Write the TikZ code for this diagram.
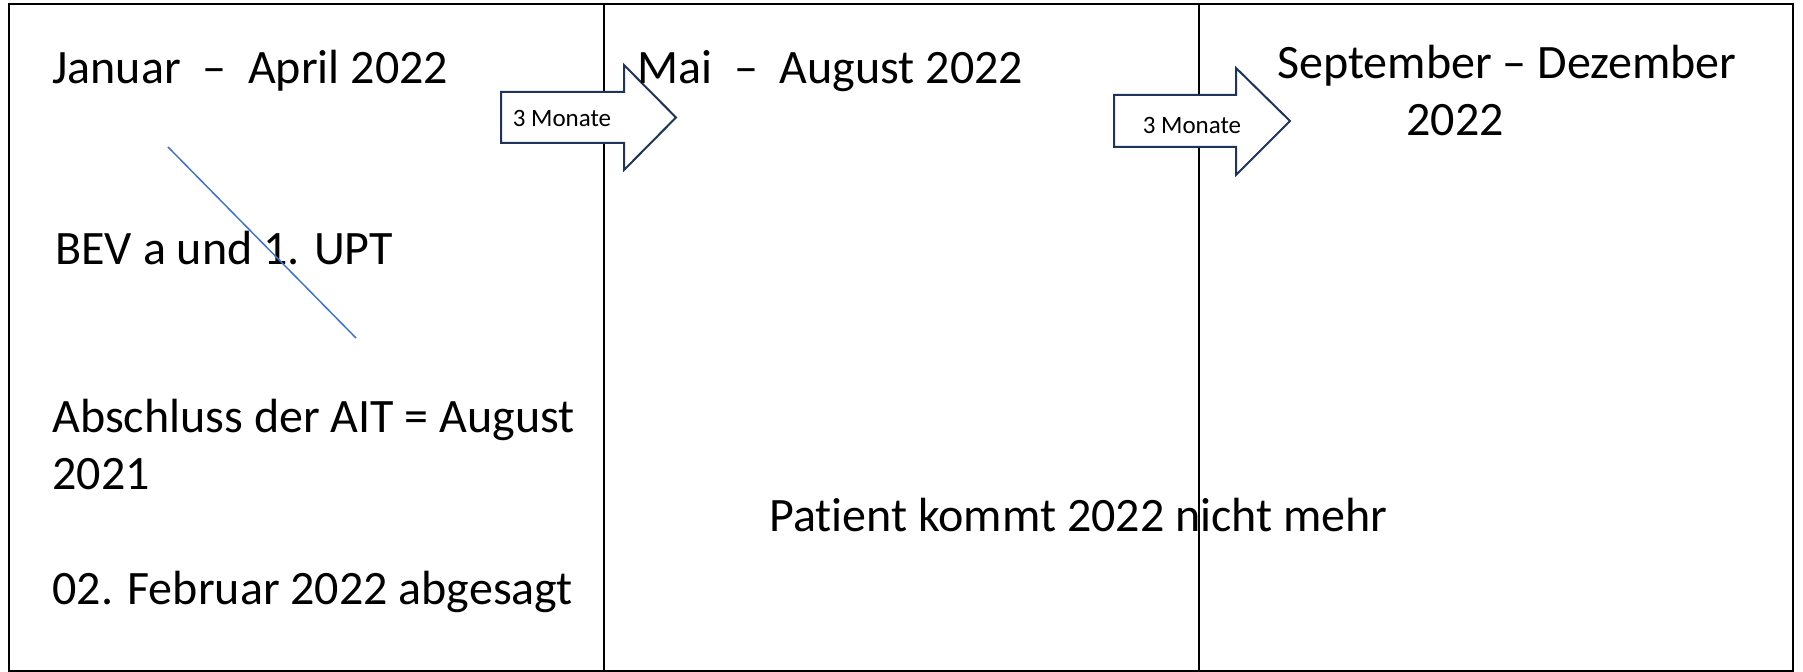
\documentclass[tikz,border=0pt]{standalone}
\usepackage{fontspec}
\setmainfont{Carlito}[RawFeature={-liga}]
\definecolor{arrowline}{RGB}{32,52,90}
\definecolor{strike}{RGB}{68,114,196}
\begin{document}
\begin{tikzpicture}[x=0.5pt,y=-0.5pt,
  txt/.style={anchor=base west,inner sep=0pt,font=\fontsize{24pt}{29pt}\selectfont},
  lbl/.style={inner sep=0pt,font=\fontsize{12.5pt}{15pt}\selectfont},
  frame/.style={draw=black,line width=1pt},
  bigarrow/.style={draw=arrowline,fill=white,line width=1pt,line join=miter}]
\useasboundingbox (0,0) rectangle (1803,672);
% frame and columns
\draw[frame] (9,4) rectangle (1793,671);
\coordinate (d1t) at (604,4);
\coordinate (d1b) at (604,671);
\coordinate (d2t) at (1199,4);
\coordinate (d2b) at (1199,671);
\draw[frame] (d1t) -- (d1b);
\draw[frame] (d2t) -- (d2b);
% arrows
\draw[bigarrow] (501,92) -- (624,92) -- (624,65) -- (676,117.5) -- (624,170) -- (624,143) -- (501,143) -- cycle;
\node[lbl] (a1) at (562,118) {3 Monate};
\draw[bigarrow] (1114,95) -- (1236,95) -- (1236,68) -- (1290,121) -- (1236,175) -- (1236,147) -- (1114,147) -- cycle;
\node[lbl] (a2) at (1192,125) {3 Monate};
% column 1
\node[txt] (t1) at (52,84) {Januar\ \ –\ \ April 2022};
\node[txt] (t2) at (55,265) {BEV a und 1. UPT};
\node[txt] (t3) at (52,433) {Abschluss der AIT = August};
\node[txt] (t4) at (52,490) {2021};
\node[txt] (t5) at (52,605) {02. Februar 2022 abgesagt};
% column 2
\node[txt] (m1) at (637,84) {Mai\ \ –\ \ August 2022};
\node[txt] (p1) at (769,532) {Patient kommt 2022 nicht mehr};
% column 3
\node[txt] (s1) at (1277,79) {September – Dezember};
\node[txt] (s2) at (1406,136) {2022};
% strike line
\coordinate (l1) at (168,147);
\coordinate (l2) at (356,338);
\draw[strike,line width=0.75pt] (l1) -- (l2);
\end{tikzpicture}
\end{document}
